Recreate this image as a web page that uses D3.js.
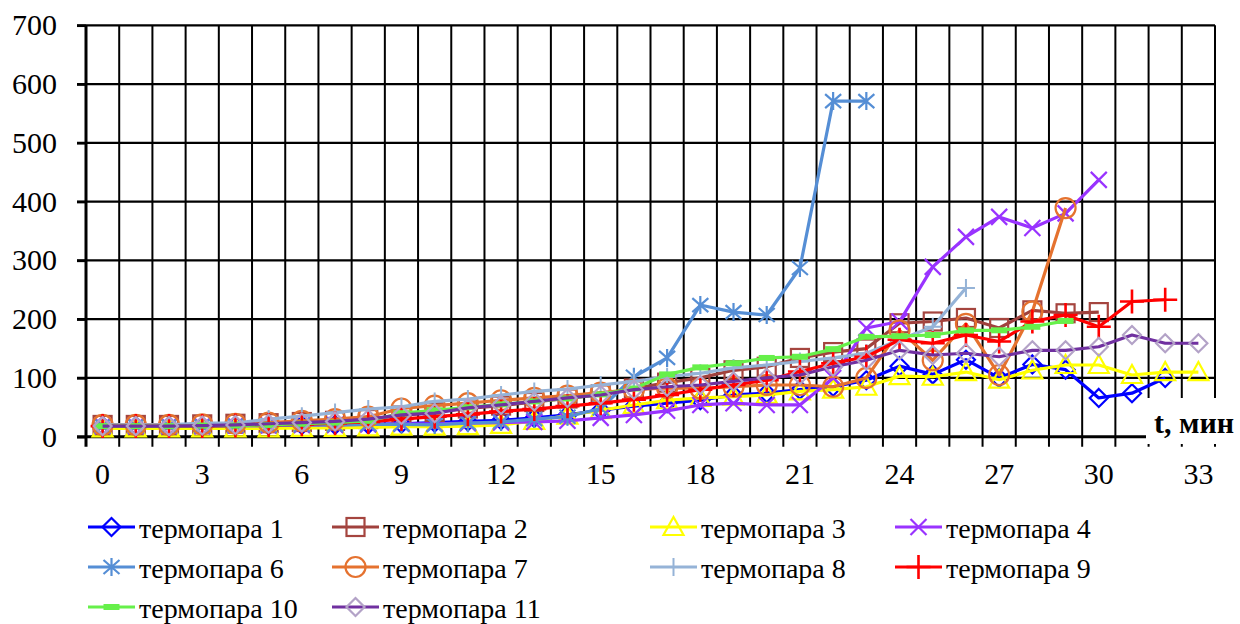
<!DOCTYPE html>
<html><head><meta charset="utf-8">
<script src="https://cdn.jsdelivr.net/npm/d3@7"></script>
</head><body style="margin:0;background:#fff">
<svg id="c" width="1240" height="624" style="display:block"></svg>
<script>
const categories = d3.range(0, 34);
const yTicks = [0,100,200,300,400,500,600,700];
const xLabelCats = [0,3,6,9,12,15,18,21,24,27,30,33];

const s1  = [18,18,18,18,19,19,20,20,21,22,24,26,28,32,37,45,52,57,62,71,74,80,85,96,120,106,131,100,123,114,66,74,100];
const s2  = [20,20,20,21,22,23,25,27,30,36,42,48,53,59,65,72,82,92,100,113,119,134,144,150,193,196,202,185,215,210,212];
const s3  = [14,14,14,14,14,14,15,15,16,17,17,18,20,27,36,45,54,62,66,68,71,77,80,85,103,102,110,97,113,122,122,105,110,110];
const s4  = [18,18,18,18,19,19,20,20,21,22,22,23,24,25,27,32,37,44,54,57,54,54,100,185,196,289,340,374,355,380,437];
const s6  = [18,18,18,18,19,19,20,20,21,21,20,23,25,30,34,48,102,134,224,212,207,287,571,571];
const s7  = [20,20,20,21,22,24,27,30,34,48,53,57,62,66,70,75,80,83,82,85,88,88,85,100,181,130,192,105,213,389];
const s8  = [20,20,20,23,23,30,35,41,47,51,60,64,71,77,81,88,94,102,108,117,122,128,134,142,165,187,253];
const s9  = [18,18,18,18,19,20,21,23,25,30,34,38,43,47,52,57,63,71,80,88,96,111,125,136,165,159,173,162,196,207,187,230,233];
const s10 = [18,18,18,19,19,20,22,24,27,40,45,50,55,60,65,72,82,106,118,125,134,136,149,170,171,173,181,181,187,197];
const s11 = [18,18,18,19,20,22,24,26,30,37,40,49,54,60,66,71,80,85,88,94,100,105,119,130,147,139,142,136,147,147,153,173,159,159];

const names = ["термопара 1","термопара 2","термопара 3","термопара 4","термопара 6","термопара 7","термопара 8","термопара 9","термопара 10","термопара 11"];
const series = [
  {v:s1, line:"#0000ff", mk:"#0000ff", m:"diamond"},
  {v:s2, line:"#a0413d", mk:"#a5453f", m:"square"},
  {v:s3, line:"#ffff00", mk:"#ffff00", m:"triangle"},
  {v:s4, line:"#9933ff", mk:"#9933ff", m:"x"},
  {v:s6, line:"#558ed5", mk:"#558ed5", m:"star"},
  {v:s7, line:"#e5722f", mk:"#e5722f", m:"circle"},
  {v:s8, line:"#95b3d7", mk:"#95b3d7", m:"plus"},
  {v:s9, line:"#ff0000", mk:"#ff0000", m:"bigplus"},
  {v:s10,line:"#66f04a", mk:"#66f04a", m:"dash"},
  {v:s11,line:"#7030a0", mk:"#b3a2c7", m:"diamond"}
];

const FONT = "'Liberation Serif'";
const svg = d3.select("#c");
const L = 86, R = 1215, T = 25.3, B = 436.7;
const x = d3.scaleBand().domain(categories).range([L, R]).padding(0);
const xl = d3.scaleLinear().domain([0, 34]).range([L, R]);
const y = d3.scaleLinear().domain([0, 700]).range([B, T]);
const cx = i => x(i) + x.bandwidth()/2;
const serif = (sel, size) => sel.style("font-family", FONT, "important").style("font-size", size + "px", "important");

const g = svg.append("g");
g.selectAll(".hg").data(yTicks.filter(d=>d>0)).join("line")
  .attr("x1", 77).attr("x2", R).attr("y1", d=>y(d)).attr("y2", d=>y(d))
  .attr("stroke", "#000").attr("stroke-width", 2.2);
g.selectAll(".vg").data(d3.range(1, 35)).join("line")
  .attr("x1", d=>xl(d)).attr("x2", d=>xl(d)).attr("y1", T).attr("y2", B+10)
  .attr("stroke", "#000").attr("stroke-width", 2);

const ya = svg.append("g").attr("transform", `translate(${L},0)`)
  .call(d3.axisLeft(y).tickValues(yTicks).tickSize(9).tickPadding(20));
ya.select(".domain").attr("stroke-width", 3).attr("d", `M0,${B+10}V${T}`);
ya.selectAll(".tick line").attr("stroke-width", 2.5);
ya.selectAll("text").attr("fill", "#000").call(serif, 30);

svg.append("line").attr("x1", 77).attr("x2", R).attr("y1", B).attr("y2", B)
  .attr("stroke", "#000").attr("stroke-width", 3);
const xa = svg.append("g").attr("transform", `translate(0,${B})`)
  .call(d3.axisBottom(x).tickValues(xLabelCats).tickSize(0).tickPadding(26));
xa.select(".domain").remove();
xa.selectAll("text").attr("fill", "#000").call(serif, 30);

function marker(sel, type, color) {
  const sw = 2.2;
  if (type === "diamond") sel.append("path").attr("d","M0,-9L9,0L0,9L-9,0Z").attr("fill","none").attr("stroke",color).attr("stroke-width",sw);
  else if (type === "square") sel.append("rect").attr("x",-9).attr("y",-9).attr("width",18).attr("height",18).attr("fill","none").attr("stroke",color).attr("stroke-width",sw);
  else if (type === "triangle") sel.append("path").attr("d","M0,-10L10,8L-10,8Z").attr("fill","none").attr("stroke",color).attr("stroke-width",sw);
  else if (type === "x") sel.append("path").attr("d","M-8,-8L8,8M-8,8L8,-8").attr("stroke",color).attr("stroke-width",sw);
  else if (type === "star") sel.append("path").attr("d","M-8,-7L8,7M-8,7L8,-7M0,-9V9").attr("stroke",color).attr("stroke-width",sw);
  else if (type === "circle") sel.append("circle").attr("r",10).attr("fill","none").attr("stroke",color).attr("stroke-width",sw);
  else if (type === "plus") sel.append("path").attr("d","M-9,0H9M0,-9V9").attr("stroke",color).attr("stroke-width",2);
  else if (type === "bigplus") sel.append("path").attr("d","M-12,0H12M0,-12V12").attr("stroke",color).attr("stroke-width",2.6);
  else if (type === "dash") sel.append("path").attr("d","M-8,0H8").attr("stroke",color).attr("stroke-width",6);
}

const line = d3.line().x((d,i)=>cx(i)).y(d=>y(d));
series.forEach(s => {
  const sg = svg.append("g");
  sg.append("path").datum(s.v).attr("d", line).attr("fill","none")
    .attr("stroke", s.line).attr("stroke-width", 3.2).attr("stroke-linejoin","round");
  sg.selectAll("g.m").data(s.v).join("g").attr("class","m")
    .attr("transform", (d,i)=>`translate(${cx(i)},${y(d)})`)
    .each(function(){ marker(d3.select(this), s.m, s.mk); });
});

svg.append("rect").attr("x", 1146).attr("y", 398).attr("width", 94).attr("height", 46).attr("fill", "#fff");
svg.append("text").attr("x", 1154).attr("y", 433).style("font-weight", "bold")
  .call(serif, 30).text("t, мин");

const colX = [88, 332, 650, 895];
const rowY = [527, 567, 607];
const lg = svg.append("g");
series.forEach((s, k) => {
  const c = k % 4, r = Math.floor(k / 4);
  const gx = colX[c], gy = rowY[r];
  const it = lg.append("g").attr("transform", `translate(${gx},${gy})`);
  it.append("line").attr("x1", 0).attr("x2", 47).attr("y1", 0).attr("y2", 0).attr("stroke", s.line).attr("stroke-width", 3.2);
  const m = it.append("g").attr("transform", "translate(23.5,0)");
  marker(m, s.m, s.mk);
  it.append("text").attr("x", 51).attr("y", 11).attr("fill","#000").call(serif, 28).text(names[k]);
});
</script>
</body></html>
